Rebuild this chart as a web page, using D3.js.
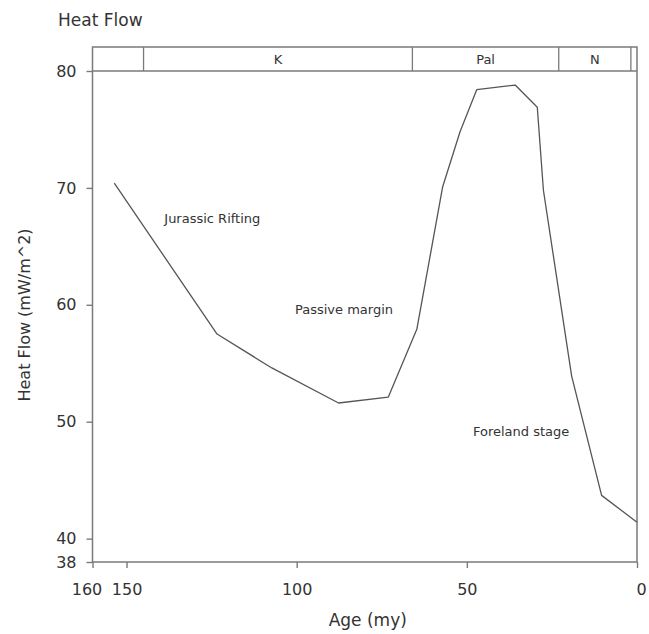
<!DOCTYPE html>
<html>
<head>
<meta charset="utf-8">
<script src="https://cdn.jsdelivr.net/npm/d3@7"></script>
<style>
  body { margin: 0; background: #fff; }
  text { font-family: "DejaVu Sans", sans-serif; fill: #333; }
</style>
</head>
<body>
<div id="chart"></div>
<script>
// heat flow history
var ages = [153.6, 123.4, 107.3, 87.7, 73.1, 64.7, 57.1, 52.0, 47.1, 35.8, 29.3, 27.5, 19.2, 10.4, 0];
var heatFlow = [70.4, 57.5, 54.6, 51.6, 52.1, 57.9, 70.1, 74.8, 78.4, 78.8, 76.9, 69.8, 53.9, 43.7, 41.4];

var xTicks = [160, 150, 100, 50, 0];
var yTicks = [38, 40, 50, 60, 70, 80];

// geologic periods band
var periodBounds = [160, 145, 66, 23, 1.8, 0];
var periodNames = ["", "K", "Pal", "N", ""];

// stage notes (age, heat flow of the text start)
var noteText = ["Jurassic Rifting", "Passive margin", "Foreland stage"];
var noteAge = [138.9, 100.5, 48.2];
var noteValue = [67.0, 59.2, 48.8];

var width = 649, height = 634;
var frameTop = 47;

var svg = d3.select("#chart").append("svg")
    .attr("width", width)
    .attr("height", height);

var x = d3.scaleLinear().domain([160, 0]).range([92.5, 637]);
var y = d3.scaleLinear().domain([38, 80]).range([562, 71]);

var axisColor = "#7a7a7a";

// x axis
var gx = svg.append("g")
    .attr("transform", "translate(0," + y(38) + ")")
    .call(d3.axisBottom(x).tickValues(xTicks).tickSize(6).tickSizeOuter(0).tickPadding(16)
        .tickFormat(d3.format("d")));
gx.select(".domain").remove();
gx.selectAll("line").attr("stroke", axisColor).attr("stroke-width", 1.4);
gx.selectAll("text").style("font-size", "16px").style("fill", "#333")
    .attr("dx", function(d){ return d == 160 ? -6 : (d == 0 ? 4 : 0); });

// y axis
var gy = svg.append("g")
    .attr("transform", "translate(" + x(160) + ",0)")
    .call(d3.axisLeft(y).tickValues(yTicks).tickSize(6).tickSizeOuter(0).tickPadding(10));
gy.select(".domain").remove();
gy.selectAll("line").attr("stroke", axisColor).attr("stroke-width", 1.4);
gy.selectAll("text").style("font-size", "16px").style("fill", "#333");

// frame
svg.append("rect")
    .attr("x", x(160))
    .attr("y", frameTop)
    .attr("width", x(0) - x(160))
    .attr("height", y(38) - frameTop)
    .attr("fill", "none")
    .attr("stroke", axisColor)
    .attr("stroke-width", 1.5);

// period band
svg.append("line")
    .attr("x1", x(160)).attr("x2", x(0))
    .attr("y1", y(80)).attr("y2", y(80))
    .attr("stroke", axisColor).attr("stroke-width", 1.5);

svg.selectAll(".period-div")
    .data(periodBounds.slice(1, -1))
    .enter().append("line")
    .attr("class", "period-div")
    .attr("x1", function(d){ return x(d); })
    .attr("x2", function(d){ return x(d); })
    .attr("y1", frameTop)
    .attr("y2", y(80))
    .attr("stroke", axisColor)
    .attr("stroke-width", 1.3);

svg.selectAll(".period-label")
    .data(periodNames)
    .enter().append("text")
    .attr("class", "period-label")
    .attr("x", function(d, i){ return (x(periodBounds[i]) + x(periodBounds[i + 1])) / 2; })
    .attr("y", (frameTop + y(80)) / 2)
    .attr("dy", "0.35em")
    .attr("text-anchor", "middle")
    .style("font-size", "13px")
    .text(function(d){ return d; });

// heat flow curve
var pts = ages.map(function(a, i){ return [a, heatFlow[i]]; });
svg.append("path")
    .datum(pts)
    .attr("fill", "none")
    .attr("stroke", "#555")
    .attr("stroke-width", 1.3)
    .attr("stroke-linejoin", "round")
    .attr("d", d3.line()
        .x(function(d){ return x(d[0]); })
        .y(function(d){ return y(d[1]); }));

// stage notes
svg.selectAll(".note")
    .data(noteText)
    .enter().append("text")
    .attr("class", "note")
    .attr("x", function(d, i){ return x(noteAge[i]); })
    .attr("y", function(d, i){ return y(noteValue[i]); })
    .style("font-size", "13px")
    .text(function(d){ return d; });

// titles
svg.append("text")
    .attr("x", 58)
    .attr("y", 26)
    .style("font-size", "17px")
    .text("Heat Flow");

svg.append("text")
    .attr("transform", "translate(30," + 315 + ") rotate(-90)")
    .attr("text-anchor", "middle")
    .style("font-size", "16px")
    .text("Heat Flow (mW/m^2)");

svg.append("text")
    .attr("x", (x(160) + x(0)) / 2 + 3)
    .attr("y", 626)
    .attr("text-anchor", "middle")
    .style("font-size", "17px")
    .text("Age (my)");
</script>
</body>
</html>
